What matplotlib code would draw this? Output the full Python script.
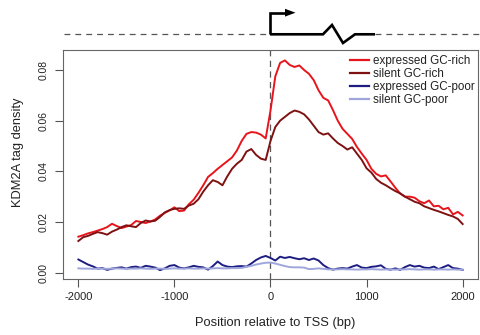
import matplotlib
matplotlib.use("Agg")
import matplotlib.pyplot as plt
from matplotlib.patches import Polygon
import numpy as np

plt.rcParams["font.family"] = ["Liberation Sans", "DejaVu Sans"]

# Position relative to TSS (bp), 50 bp bins
position = np.arange(-2000, 2001, 50)

expressed_gc_rich = [
    0.0142, 0.0148, 0.0155, 0.0160, 0.0166, 0.0172, 0.0180, 0.0193, 0.0184, 0.0176,
    0.0182, 0.0188, 0.0204, 0.0200, 0.0196, 0.0202, 0.0210, 0.0225, 0.0236, 0.0246,
    0.0258, 0.0243, 0.0245, 0.0270, 0.0288, 0.0315, 0.0345, 0.0378, 0.0393, 0.0410,
    0.0425, 0.0440, 0.0455, 0.0482, 0.0520, 0.0548, 0.0555, 0.0553, 0.0545, 0.0530,
    0.0640, 0.0775, 0.0828, 0.0838, 0.0820, 0.0812, 0.0818, 0.0800, 0.0785, 0.0760,
    0.0720, 0.0690, 0.0680, 0.0642, 0.0600, 0.0568, 0.0548, 0.0528, 0.0496, 0.0470,
    0.0445, 0.0410, 0.0390, 0.0380, 0.0384, 0.0360, 0.0335, 0.0312, 0.0300, 0.0300,
    0.0296, 0.0282, 0.0274, 0.0285, 0.0262, 0.0264, 0.0250, 0.0256, 0.0230, 0.0240,
    0.0226,
]

silent_gc_rich = [
    0.0125, 0.0140, 0.0145, 0.0153, 0.0160, 0.0156, 0.0150, 0.0162, 0.0170, 0.0180,
    0.0187, 0.0183, 0.0180, 0.0196, 0.0206, 0.0202, 0.0205, 0.0220, 0.0238, 0.0247,
    0.0252, 0.0254, 0.0252, 0.0265, 0.0272, 0.0290, 0.0320, 0.0345, 0.0365, 0.0358,
    0.0345, 0.0380, 0.0410, 0.0430, 0.0445, 0.0478, 0.0488, 0.0465, 0.0450, 0.0445,
    0.0520, 0.0575, 0.0600, 0.0615, 0.0630, 0.0640, 0.0635, 0.0625, 0.0605, 0.0580,
    0.0555, 0.0545, 0.0550, 0.0530, 0.0512, 0.0500, 0.0486, 0.0495, 0.0470, 0.0445,
    0.0412, 0.0395, 0.0370, 0.0355, 0.0345, 0.0333, 0.0322, 0.0313, 0.0300, 0.0290,
    0.0280, 0.0274, 0.0262, 0.0255, 0.0248, 0.0242, 0.0235, 0.0228, 0.0222, 0.0212,
    0.0192,
]

expressed_gc_poor = [
    0.0052, 0.0042, 0.0032, 0.0025, 0.0016, 0.0018, 0.0011, 0.0016, 0.0019, 0.0021,
    0.0016, 0.0022, 0.0024, 0.0019, 0.0027, 0.0024, 0.0020, 0.0010, 0.0017, 0.0027,
    0.0030, 0.0020, 0.0017, 0.0021, 0.0027, 0.0023, 0.0021, 0.0012, 0.0026, 0.0044,
    0.0030, 0.0024, 0.0022, 0.0025, 0.0026, 0.0024, 0.0036, 0.0050, 0.0060, 0.0066,
    0.0058, 0.0048, 0.0063, 0.0058, 0.0062, 0.0057, 0.0053, 0.0057, 0.0050, 0.0056,
    0.0048, 0.0030, 0.0018, 0.0012, 0.0016, 0.0018, 0.0016, 0.0024, 0.0030, 0.0020,
    0.0018, 0.0023, 0.0025, 0.0029, 0.0015, 0.0012, 0.0017, 0.0011, 0.0022, 0.0030,
    0.0024, 0.0027, 0.0020, 0.0018, 0.0024, 0.0014, 0.0022, 0.0030, 0.0018, 0.0016,
    0.0011,
]

silent_gc_poor = [
    0.0017, 0.0016, 0.0016, 0.0015, 0.0016, 0.0016, 0.0015, 0.0016, 0.0017, 0.0016,
    0.0015, 0.0016, 0.0016, 0.0017, 0.0016, 0.0015, 0.0016, 0.0016, 0.0015, 0.0016,
    0.0017, 0.0016, 0.0016, 0.0017, 0.0016, 0.0016, 0.0017, 0.0016, 0.0017, 0.0018,
    0.0017, 0.0017, 0.0018, 0.0018, 0.0019, 0.0023, 0.0027, 0.0032, 0.0036, 0.0039,
    0.0040, 0.0036, 0.0031, 0.0026, 0.0022, 0.0021, 0.0021, 0.0020, 0.0014, 0.0015,
    0.0017, 0.0015, 0.0013, 0.0013, 0.0013, 0.0014, 0.0013, 0.0013, 0.0012, 0.0013,
    0.0013, 0.0014, 0.0013, 0.0012, 0.0013, 0.0013, 0.0012, 0.0013, 0.0013, 0.0014,
    0.0013, 0.0012, 0.0013, 0.0013, 0.0012, 0.0013, 0.0013, 0.0012, 0.0013, 0.0012,
    0.0012,
]

series_labels = ["expressed GC-rich", "silent GC-rich", "expressed GC-poor", "silent GC-poor"]
series_colors = ["#e8141c", "#7e1212", "#1e1e82", "#9ea6dc"]
x_ticks = [-2000, -1000, 0, 1000, 2000]
y_ticks = [0.00, 0.02, 0.04, 0.06, 0.08]

W, H = 481, 335
fig = plt.figure(figsize=(W / 100, H / 100), dpi=100)
ax = fig.add_axes([63 / W, 1 - 279 / H, (478 - 63) / W, (279 - 50) / H])

for vals, lab, col in zip(
    [expressed_gc_rich, silent_gc_rich, expressed_gc_poor, silent_gc_poor],
    series_labels, series_colors,
):
    ax.plot(position, vals, color=col, lw=1.4, label=lab, solid_joinstyle="round")

ax.axvline(0, color="#555555", lw=0.9, dashes=(5, 3.5), zorder=0)

ax.set_xlim(-2160, 2160)
ax.set_ylim(-0.0025, 0.0879)
ax.set_xticks(x_ticks)
ax.set_xticklabels([str(t) for t in x_ticks], fontsize=8.0, color="#222222")
ax.set_yticks(y_ticks)
ax.set_yticklabels([f"{t:.2f}" for t in y_ticks], fontsize=7.4, color="#222222",
                   rotation=90, va="center")
ax.tick_params(axis="both", direction="out", length=5.5, width=0.8, color="#555555")
ax.tick_params(axis="x", pad=3.5)
ax.tick_params(axis="y", pad=5.0)
for s in ax.spines.values():
    s.set_color("#666666")
    s.set_linewidth(0.8)

fig.text(18 / W, 1 - 152 / H, "KDM2A tag density", rotation=90, ha="center",
         va="center", fontsize=9.3, color="#222222")
fig.text(275 / W, 1 - 323 / H, "Position relative to TSS (bp)", ha="center",
         va="center", fontsize=9.3, color="#222222")

leg = ax.legend(loc="upper left", bbox_to_anchor=((350 - 63) / 415, (279 - 55) / 229),
                frameon=False, fontsize=8.4, handlelength=1.65, handletextpad=0.3,
                labelspacing=0.08, borderpad=0, borderaxespad=0)
for t in leg.get_texts():
    t.set_color("#222222")
for h in leg.get_lines():
    h.set_linewidth(1.6)

# Gene diagram above the panel: promoter arrow, exon line, break symbol
deco = fig.add_axes([0, 0, 1, 1], zorder=-1)
deco.set_xlim(0, W)
deco.set_ylim(H, 0)
deco.axis("off")
deco.plot([64, 270], [34.3, 34.3], color="#555555", lw=0.9, dashes=(4.7, 4))
deco.plot([375, 479], [34.3, 34.3], color="#555555", lw=0.9, dashes=(4.7, 4))
deco.plot([270, 270, 287], [34.3, 12.7, 12.7], color="black", lw=1.9,
          solid_joinstyle="miter", solid_capstyle="butt")
deco.add_patch(Polygon([[285, 8.8], [295.5, 12.7], [285, 16.6]], closed=True,
                       color="black", lw=0))
deco.plot([270, 323, 332, 343, 355, 375], [34.3, 34.3, 25, 43, 34.3, 34.3],
          color="black", lw=1.9, solid_joinstyle="miter", solid_capstyle="butt")

fig.savefig("out.png", dpi=100)
